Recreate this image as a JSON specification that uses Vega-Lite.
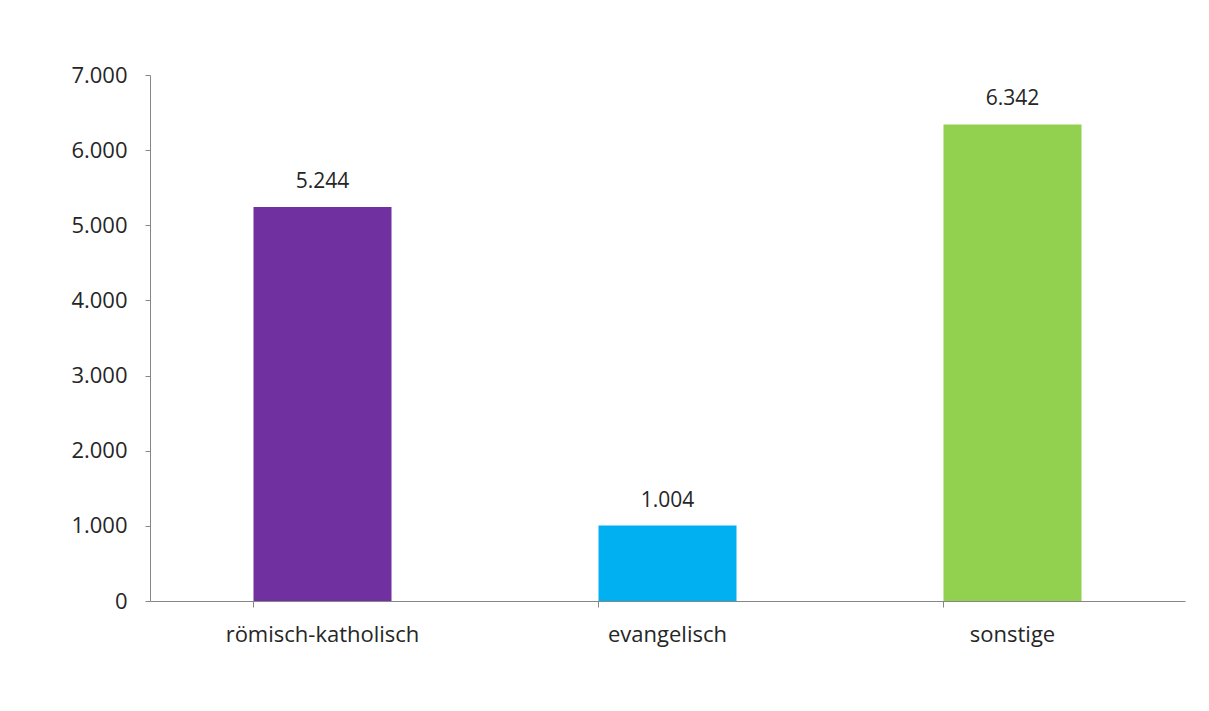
{
  "$schema": "https://vega.github.io/schema/vega-lite/v6.json",
  "width": 1035,
  "height": 526,
  "autosize": {"type": "none"},
  "padding": {"left": 150, "top": 75, "right": 24, "bottom": 110},
  "background": "white",
  "config": {
    "locale": {"number": {"decimal": ",", "thousands": ".", "grouping": [3], "currency": ["", " €"]}},
    "view": {"stroke": null},
    "font": "Open Sans"
  },
  "data": {"values": [
    {"konfession": "römisch-katholisch", "anzahl": 5244},
    {"konfession": "evangelisch", "anzahl": 1004},
    {"konfession": "sonstige", "anzahl": 6342}
  ]},
  "encoding": {
    "x": {
      "field": "konfession", "type": "nominal", "sort": null,
      "scale": {"paddingInner": 0.6, "paddingOuter": 0.3},
      "axis": {
        "title": null, "labelAngle": 0, "bandPosition": 0, "labelLimit": 0,
        "domainColor": "#868686", "tickColor": "#868686", "tickSize": 6,
        "labelFontSize": 22, "labelColor": "#262626", "labelPadding": 17,
        "labelFont": "Open Sans"
      }
    },
    "y": {
      "field": "anzahl", "type": "quantitative",
      "scale": {"domain": [0, 7000], "nice": false},
      "axis": {
        "title": null, "values": [0, 1000, 2000, 3000, 4000, 5000, 6000, 7000],
        "format": ",d", "grid": false,
        "domainColor": "#868686", "tickColor": "#868686", "tickSize": 5,
        "labelFontSize": 22, "labelColor": "#262626", "labelPadding": 18,
        "labelFont": "Open Sans"
      }
    }
  },
  "layer": [
    {
      "mark": {"type": "bar"},
      "encoding": {
        "color": {
          "field": "konfession", "type": "nominal", "legend": null,
          "scale": {"domain": ["römisch-katholisch", "evangelisch", "sonstige"], "range": ["#7030A0", "#00B0F0", "#92D050"]}
        }
      }
    },
    {
      "mark": {"type": "text", "baseline": "alphabetic", "dy": -19, "fontSize": 21, "color": "#262626", "font": "Open Sans"},
      "encoding": {
        "text": {"field": "anzahl", "type": "quantitative", "format": ",d"}
      }
    }
  ]
}
